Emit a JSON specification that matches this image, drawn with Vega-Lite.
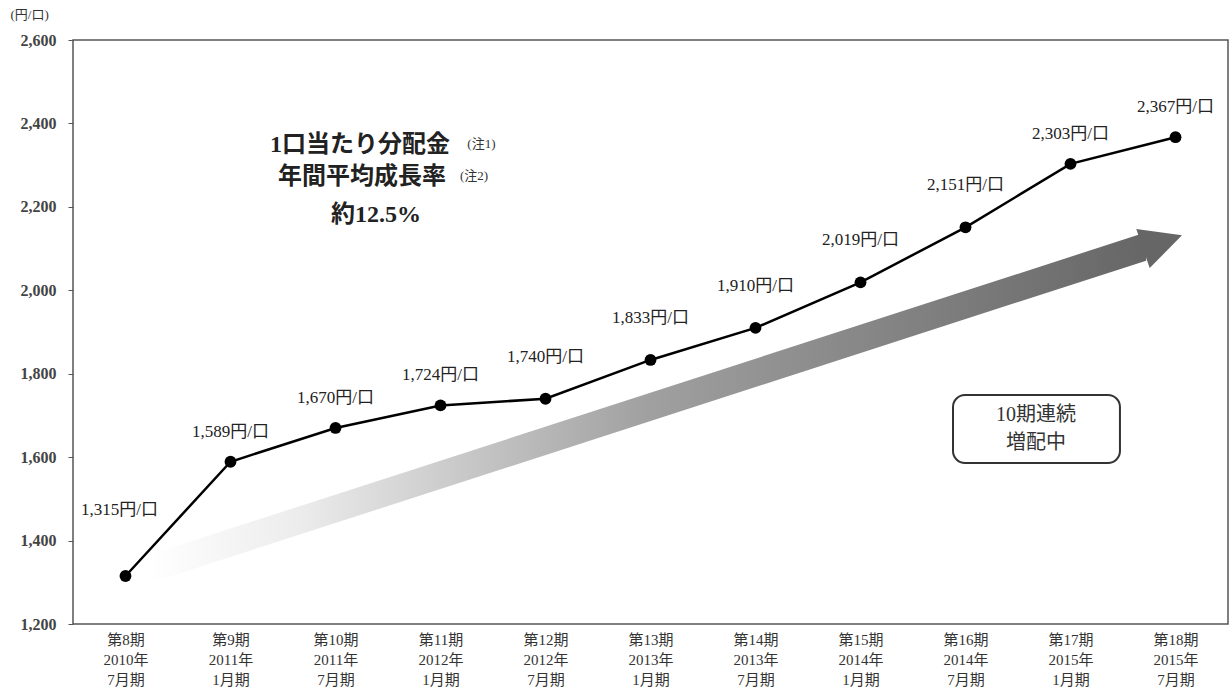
{
  "$schema": "https://vega.github.io/schema/vega-lite/v6.json",
  "width": 1155,
  "height": 584,
  "autosize": {"type": "none"},
  "padding": {"left": 73, "top": 40, "right": 3, "bottom": 74},
  "background": "white",
  "config": {
    "view": {"stroke": "#555555", "strokeWidth": 1.5},
    "font": "'Liberation Serif', 'Noto Sans CJK JP'",
    "text": {"font": "'Liberation Serif', 'Noto Sans CJK JP'"}
  },
  "datasets": {
    "series": [
      {"n": 8, "period": "第8期\n2010年\n7月期", "value": 1315, "label": "1,315円/口"},
      {"n": 9, "period": "第9期\n2011年\n1月期", "value": 1589, "label": "1,589円/口"},
      {"n": 10, "period": "第10期\n2011年\n7月期", "value": 1670, "label": "1,670円/口"},
      {"n": 11, "period": "第11期\n2012年\n1月期", "value": 1724, "label": "1,724円/口"},
      {"n": 12, "period": "第12期\n2012年\n7月期", "value": 1740, "label": "1,740円/口"},
      {"n": 13, "period": "第13期\n2013年\n1月期", "value": 1833, "label": "1,833円/口"},
      {"n": 14, "period": "第14期\n2013年\n7月期", "value": 1910, "label": "1,910円/口"},
      {"n": 15, "period": "第15期\n2014年\n1月期", "value": 2019, "label": "2,019円/口"},
      {"n": 16, "period": "第16期\n2014年\n7月期", "value": 2151, "label": "2,151円/口"},
      {"n": 17, "period": "第17期\n2015年\n1月期", "value": 2303, "label": "2,303円/口"},
      {"n": 18, "period": "第18期\n2015年\n7月期", "value": 2367, "label": "2,367円/口"}
    ],
    "arrowBody": [
      {"x": 0.23, "top": 1366, "bottom": 1298},
      {"x": 9.72, "top": 2139, "bottom": 2071}
    ],
    "arrowHead": [
      {"x": 9.876, "y": 2116}
    ],
    "mainText": [
      {"x": 2.233, "y": 2348, "text": "1口当たり分配金"},
      {"x": 2.252, "y": 2272, "text": "年間平均成長率"},
      {"x": 2.386, "y": 2180, "text": "約12.5%"}
    ],
    "noteText": [
      {"x": 3.39, "y": 2350, "text": "(注1)"},
      {"x": 3.32, "y": 2274, "text": "(注2)"}
    ],
    "box": [
      {"x": 7.881, "x2": 9.471, "y": 1749, "y2": 1586}
    ],
    "boxText": [
      {"x": 8.671, "y": 1701, "text": "10期連続"},
      {"x": 8.671, "y": 1634, "text": "増配中"}
    ]
  },
  "resolve": {"scale": {"x": "independent"}},
  "layer": [
    {
      "layer": [
        {
          "data": {"name": "arrowBody"},
          "mark": {
            "type": "area",
            "color": {
              "gradient": "linear",
              "x1": 0, "y1": 0, "x2": 1, "y2": 0,
              "stops": [
                {"offset": 0, "color": "#ffffff"},
                {"offset": 0.15, "color": "#ececec"},
                {"offset": 0.5, "color": "#a0a0a0"},
                {"offset": 1, "color": "#666666"}
              ]
            }
          },
          "encoding": {
            "x": {"field": "x", "type": "quantitative", "scale": {"domain": [-0.5, 10.5], "nice": false, "zero": false}, "axis": null},
            "y": {
              "field": "top", "type": "quantitative",
              "scale": {"domain": [1200, 2600], "nice": false, "zero": false},
              "axis": {
                "values": [1200, 1400, 1600, 1800, 2000, 2200, 2400, 2600],
                "labelExpr": "format(datum.value, ',')",
                "grid": false,
                "domain": false,
                "tickColor": "#555555",
                "tickSize": 5,
                "labelFontSize": 16,
                "labelFontWeight": "bold",
                "labelColor": "#444444",
                "labelPadding": 12,
                "title": "(円/口)",
                "titleAngle": 0,
                "titleAlign": "left",
                "titleBaseline": "middle",
                "titleX": -63,
                "titleY": -26,
                "titleFontSize": 13,
                "titleFontWeight": "normal",
                "titleColor": "#333333"
              }
            },
            "y2": {"field": "bottom"}
          }
        },
        {
          "data": {"name": "arrowHead"},
          "mark": {"type": "point", "shape": "M -1 -1 L 1 0 L -1 1 Z", "filled": true, "color": "#666666", "opacity": 1, "size": 1700, "angle": -19},
          "encoding": {
            "x": {"field": "x", "type": "quantitative", "scale": {"domain": [-0.5, 10.5], "nice": false, "zero": false}, "axis": null},
            "y": {"field": "y", "type": "quantitative"}
          }
        },
        {
          "data": {"name": "mainText"},
          "mark": {"type": "text", "fontSize": 24, "fontWeight": "bold", "color": "#222222", "align": "center", "baseline": "middle"},
          "encoding": {
            "x": {"field": "x", "type": "quantitative", "scale": {"domain": [-0.5, 10.5], "nice": false, "zero": false}, "axis": null},
            "y": {"field": "y", "type": "quantitative"},
            "text": {"field": "text"}
          }
        },
        {
          "data": {"name": "noteText"},
          "mark": {"type": "text", "fontSize": 13, "color": "#333333", "align": "center", "baseline": "middle"},
          "encoding": {
            "x": {"field": "x", "type": "quantitative", "scale": {"domain": [-0.5, 10.5], "nice": false, "zero": false}, "axis": null},
            "y": {"field": "y", "type": "quantitative"},
            "text": {"field": "text"}
          }
        },
        {
          "data": {"name": "box"},
          "mark": {"type": "rect", "fill": "white", "stroke": "#333333", "strokeWidth": 2, "cornerRadius": 12},
          "encoding": {
            "x": {"field": "x", "type": "quantitative", "scale": {"domain": [-0.5, 10.5], "nice": false, "zero": false}, "axis": null},
            "x2": {"field": "x2"},
            "y": {"field": "y", "type": "quantitative"},
            "y2": {"field": "y2"}
          }
        },
        {
          "data": {"name": "boxText"},
          "mark": {"type": "text", "fontSize": 20, "color": "#333333", "align": "center", "baseline": "middle"},
          "encoding": {
            "x": {"field": "x", "type": "quantitative", "scale": {"domain": [-0.5, 10.5], "nice": false, "zero": false}, "axis": null},
            "y": {"field": "y", "type": "quantitative"},
            "text": {"field": "text"}
          }
        }
      ]
    },
    {
      "data": {"name": "series"},
      "encoding": {
        "x": {
          "field": "period", "type": "ordinal", "sort": null,
          "scale": {"type": "point", "padding": 0.5},
          "axis": {
            "title": null,
            "labelExpr": "split(datum.label, '\\n')",
            "labelAngle": 0,
            "labelFontSize": 15,
            "labelLineHeight": 20,
            "labelColor": "#333333",
            "labelPadding": 8,
            "labelBaseline": "top",
            "ticks": false,
            "domain": false
          }
        },
        "y": {
          "field": "value", "type": "quantitative",
          "scale": {"domain": [1200, 2600], "nice": false, "zero": false}
        }
      },
      "layer": [
        {"mark": {"type": "line", "color": "#000000", "strokeWidth": 2.5}},
        {"mark": {"type": "point", "filled": true, "color": "#000000", "opacity": 1, "size": 140}},
        {
          "transform": [{"filter": "datum.n == 8"}],
          "mark": {"type": "text", "fontSize": 17, "color": "#222222", "dy": -66, "dx": -6, "baseline": "middle"},
          "encoding": {"text": {"field": "label"}}
        },
        {
          "transform": [{"filter": "datum.n >= 12 && datum.n <= 16"}],
          "mark": {"type": "text", "fontSize": 17, "color": "#222222", "dy": -42, "baseline": "middle"},
          "encoding": {"text": {"field": "label"}}
        },
        {
          "transform": [{"filter": "datum.n > 8 && (datum.n < 12 || datum.n > 16)"}],
          "mark": {"type": "text", "fontSize": 17, "color": "#222222", "dy": -30, "baseline": "middle"},
          "encoding": {"text": {"field": "label"}}
        }
      ]
    }
  ]
}
